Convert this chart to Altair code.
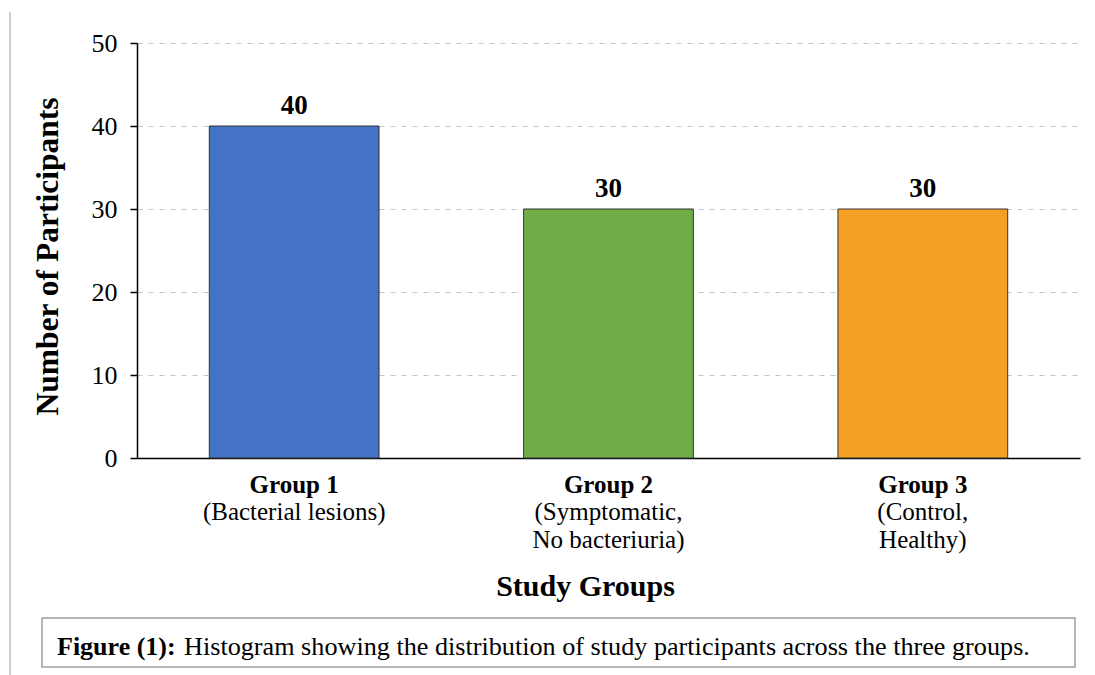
import altair as alt
import pandas as pd

# Study groups and participant counts
groups = ["Group 1", "Group 2", "Group 3"]
details = ["(Bacterial lesions)", "(Symptomatic,\nNo bacteriuria)", "(Control,\nHealthy)"]
participants = [40, 30, 30]
bar_colors = ["#4472C4", "#70AD47", "#F4A024"]
y_ticks = [0, 10, 20, 30, 40, 50]

caption_head = "Figure (1):"
caption_body = "Histogram showing the distribution of study participants across the three groups."

W, H = 943, 415
FONT = "Liberation Serif"

df = pd.DataFrame({"group": groups, "detail": details, "n": participants, "color": bar_colors})
one = pd.DataFrame({"k": [0]})

x_enc = alt.X(
    "group:N",
    sort=groups,
    scale=alt.Scale(paddingInner=0.46, paddingOuter=0.23),
    axis=alt.Axis(
        title="Study Groups",
        labelAngle=0,
        labelFont=FONT,
        labelFontSize=25,
        labelFontWeight="bold",
        labelColor="black",
        labelBaseline="alphabetic",
        labelPadding=34,
        ticks=False,
        tickSize=0,
        domainColor="black",
        domainWidth=1.5,
        titleFont=FONT,
        titleFontSize=30,
        titleFontWeight="bold",
        titleColor="black",
        titleX=448,
        titleY=137,
        titleAlign="center",
        titleBaseline="alphabetic",
    ),
)

y_enc = alt.Y(
    "n:Q",
    scale=alt.Scale(domain=[0, 50]),
    axis=alt.Axis(
        values=y_ticks,
        title="Number of Participants",
        labelFont=FONT,
        labelFontSize=26,
        labelColor="black",
        labelPadding=13,
        tickSize=7,
        tickColor="black",
        tickWidth=1.5,
        domainColor="black",
        domainWidth=1.5,
        grid=True,
        gridColor="#c4c4c4",
        gridDash=[5, 6],
        gridWidth=1,
        titleFont=FONT,
        titleFontSize=31.5,
        titleFontWeight="bold",
        titleColor="black",
        titleAngle=270,
        titleX=-89,
        titleY=213,
        titleAlign="center",
        titleBaseline="middle",
    ),
)

base = alt.Chart(df)

bars = base.mark_bar(stroke="#333333", strokeWidth=1).encode(
    x=x_enc,
    y=y_enc,
    color=alt.Color("color:N", scale=None),
)

values = base.mark_text(
    dy=-12, baseline="alphabetic", font=FONT, fontSize=27, fontWeight="bold", color="black"
).encode(x=x_enc, y=y_enc, text="n:Q")

sublabels = base.mark_text(
    baseline="alphabetic", font=FONT, fontSize=25, color="black", lineBreak="\n", lineHeight=28
).encode(x=x_enc, y=alt.value(H + 62), text="detail:N")

# Caption box beneath the chart
caption_box = alt.Chart(one).mark_rect(fill="white", stroke="#a0a0a0", strokeWidth=1.5).encode(
    x=alt.value(-95), x2=alt.value(938), y=alt.value(575), y2=alt.value(624)
)
caption_1 = alt.Chart(one).mark_text(
    align="left", baseline="alphabetic", font=FONT, fontSize=26, fontWeight="bold", color="black"
).encode(x=alt.value(-80), y=alt.value(612), text=alt.value(caption_head))
caption_2 = alt.Chart(one).mark_text(
    align="left", baseline="alphabetic", font=FONT, fontSize=26.2, color="black"
).encode(x=alt.value(47), y=alt.value(612), text=alt.value(caption_body))

# Thin page rule on the left
page_rule = alt.Chart(one).mark_rule(color="#9a9a9a", strokeWidth=1).encode(
    x=alt.value(-127), y=alt.value(-31), y2=alt.value(632)
)

chart = (
    alt.layer(bars, values, sublabels, caption_box, caption_1, caption_2, page_rule)
    .properties(
        width=W,
        height=H,
        autosize=alt.AutoSizeParams(type="none"),
        padding={"left": 137, "top": 43, "right": 15, "bottom": 217},
        background="white",
    )
    .configure_view(stroke="transparent")
)

chart.save("out.html", embed_options={"renderer": "svg", "actions": False})
